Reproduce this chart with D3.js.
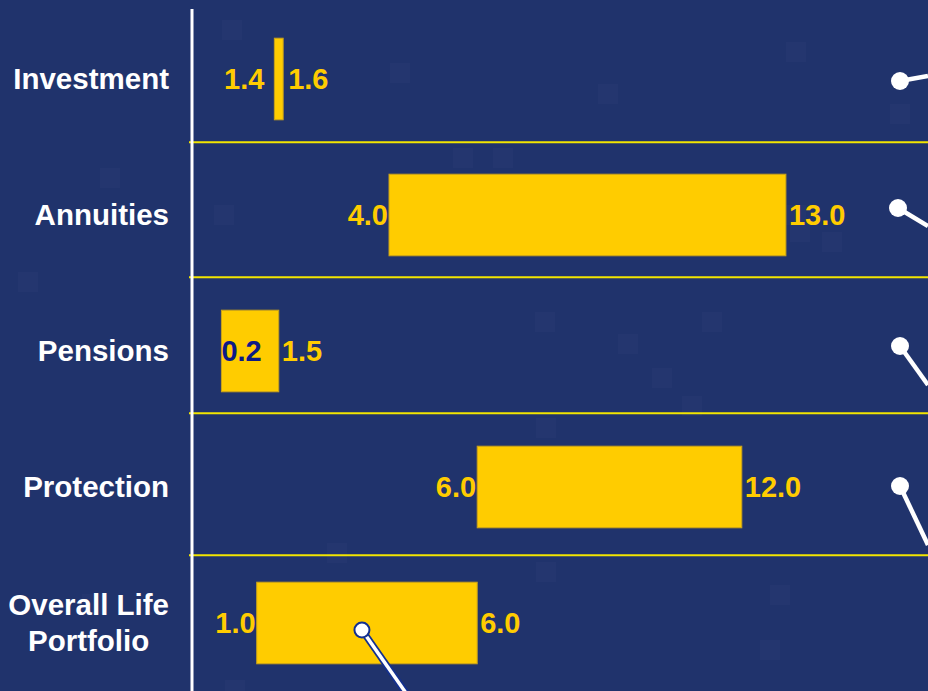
<!DOCTYPE html>
<html>
<head>
<meta charset="utf-8">
<script src="https://cdn.jsdelivr.net/npm/d3@7"></script>
<style>
  html, body { margin: 0; padding: 0; background: #20336c; }
  svg { display: block; font-family: "Liberation Sans", Arial, sans-serif; }
</style>
</head>
<body>
<div id="chart"></div>
<script>
// data
var categories = ["Investment", "Annuities", "Pensions", "Protection", "Overall Life Portfolio"];
var labelLines = [["Investment"], ["Annuities"], ["Pensions"], ["Protection"], ["Overall Life", "Portfolio"]];
var lowValues = [1.4, 4.0, 0.2, 6.0, 1.0];
var highValues = [1.6, 13.0, 1.5, 12.0, 6.0];

// decoration: faint background squares and pointer pins
var bgSquares = [[222, 20], [214, 205], [100, 168], [18, 272], [390, 63], [598, 84], [786, 42], [453, 148], [493, 148],
  [535, 312], [618, 334], [702, 312], [682, 396], [536, 418], [786, 205], [822, 232], [890, 104], [770, 585],
  [536, 562], [327, 543], [82, 594], [652, 368], [225, 680], [790, 222], [760, 640]];
var pins = [[900, 81, 928, 76], [898, 208, 928, 226], [900, 346, 928, 385], [900, 486, 928, 545]];

var width = 928, height = 691;
var svg = d3.select("#chart").append("svg")
  .attr("width", width)
  .attr("height", height);

svg.append("rect")
  .attr("width", width)
  .attr("height", height)
  .attr("fill", "#20336c");

svg.selectAll(".sq").data(bgSquares).enter().append("rect")
  .attr("x", function(d){ return d[0]; })
  .attr("y", function(d){ return d[1]; })
  .attr("width", 20)
  .attr("height", 20)
  .attr("fill", "#2a3d75")
  .attr("opacity", 0.4);

var x = d3.scaleLinear().domain([0, 16]).range([212.6, 918.2]);
var y = d3.scaleBand().domain(categories).range([11, 691]).paddingInner(0.4).paddingOuter(0.2);

// separators sit a bit above the next bar
var seps = categories.slice(1);
var sepGap = [32, 33, 33, 27];
svg.selectAll(".sep").data(seps).enter().append("line")
  .attr("x1", 189)
  .attr("x2", width)
  .attr("y1", function(d, i){ return y(d) - sepGap[i]; })
  .attr("y2", function(d, i){ return y(d) - sepGap[i]; })
  .attr("stroke", "#f2e600")
  .attr("stroke-width", 2);

// axis line
svg.append("line")
  .attr("x1", 192).attr("x2", 192)
  .attr("y1", 9).attr("y2", height)
  .attr("stroke", "#ffffff")
  .attr("stroke-width", 3);

// category labels
categories.forEach(function(c, i){
  var lines = labelLines[i];
  var cy = y(c) + y.bandwidth() / 2;
  var g = svg.append("g");
  var texts = lines.map(function(l, j){
    return g.append("text")
      .attr("y", cy + 10 + (j - (lines.length - 1) / 2) * 36)
      .attr("fill", "#ffffff")
      .attr("font-size", 29.5)
      .attr("font-weight", "bold")
      .attr("text-anchor", "middle")
      .text(l);
  });
  var maxW = d3.max(texts, function(t){ return t.node().getComputedTextLength(); });
  texts.forEach(function(t){ t.attr("x", 169 - maxW / 2); });
});

// bars
var rows = categories.map(function(c, i){ return {cat: c, lo: lowValues[i], hi: highValues[i]}; });
svg.selectAll(".bar").data(rows).enter().append("rect")
  .attr("x", function(d){ return x(d.lo); })
  .attr("y", function(d){ return y(d.cat); })
  .attr("width", function(d){ return x(d.hi) - x(d.lo); })
  .attr("height", y.bandwidth())
  .attr("fill", "#ffcc00")
  .attr("stroke", "#c9a21a")
  .attr("stroke-width", 1);

// value labels
rows.forEach(function(d){
  var cy = y(d.cat) + y.bandwidth() / 2 + 10;
  var narrow = (x(d.hi) - x(d.lo)) < 15;
  var lo = svg.append("text")
    .attr("y", cy)
    .attr("font-size", 29)
    .attr("font-weight", "bold")
    .attr("fill", "#ffcc00")
    .text(d.lo.toFixed(1));
  var w = lo.node().getComputedTextLength();
  if (x(d.lo) - w - 2 < 196){
    // no room left of the bar, put it inside
    lo.attr("x", x(d.lo)).attr("fill", "#0c1a86");
  } else {
    lo.attr("x", x(d.lo) - (narrow ? 10 : 1)).attr("text-anchor", "end");
  }
  svg.append("text")
    .attr("x", x(d.hi) + (narrow ? 5 : 3))
    .attr("y", cy)
    .attr("font-size", 29)
    .attr("font-weight", "bold")
    .attr("fill", "#ffcc00")
    .text(d.hi.toFixed(1));
});

// pins on the right
svg.selectAll(".pinline").data(pins).enter().append("line")
  .attr("x1", function(d){ return d[0]; })
  .attr("y1", function(d){ return d[1]; })
  .attr("x2", function(d){ return d[2]; })
  .attr("y2", function(d){ return d[3]; })
  .attr("stroke", "#ffffff")
  .attr("stroke-width", 4.5);
svg.selectAll(".pin").data(pins).enter().append("circle")
  .attr("cx", function(d){ return d[0]; })
  .attr("cy", function(d){ return d[1]; })
  .attr("r", 9)
  .attr("fill", "#ffffff");

// pin on the overall bar
var last = rows[rows.length - 1];
var px = (x(last.lo) + x(last.hi)) / 2 - 5;
var py = y(last.cat) + y.bandwidth() / 2 + 7;
svg.append("line")
  .attr("x1", px).attr("y1", py).attr("x2", px + 44).attr("y2", height + 2)
  .attr("stroke", "#13308f").attr("stroke-width", 7);
svg.append("line")
  .attr("x1", px).attr("y1", py).attr("x2", px + 44).attr("y2", height + 2)
  .attr("stroke", "#ffffff").attr("stroke-width", 3.5);
svg.append("circle")
  .attr("cx", px).attr("cy", py).attr("r", 7.5)
  .attr("fill", "#ffffff")
  .attr("stroke", "#13308f")
  .attr("stroke-width", 2);
</script>
</body>
</html>
